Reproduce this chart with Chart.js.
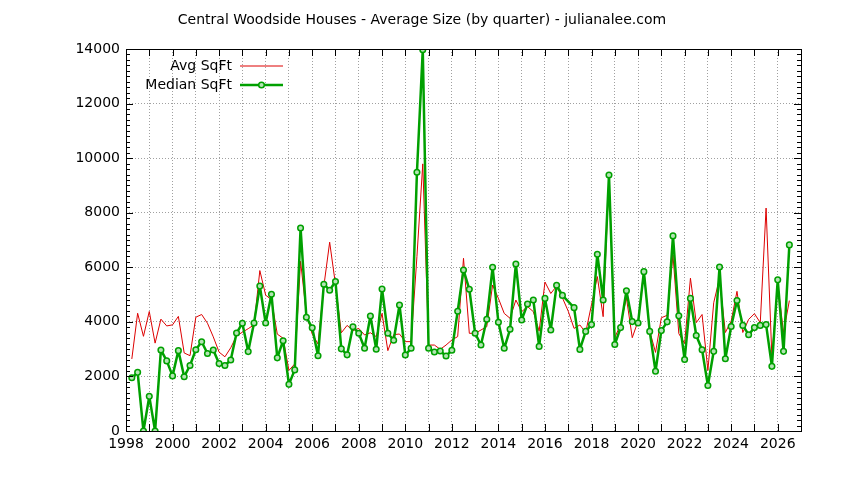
<!DOCTYPE html>
<html>
<head>
<meta charset="utf-8">
<script src="https://cdn.jsdelivr.net/npm/chart.js@4.4.1/dist/chart.umd.min.js"></script>
<style>
  html, body { margin: 0; padding: 0; background: #fff; }
  #wrap { width: 844px; height: 480px; }
</style>
</head>
<body>
<div id="wrap"><canvas id="chart" width="844" height="480"></canvas></div>
<script>
// ── Data (quarter position in years, one row per year) ──
const QUARTERS = [
  1998.25, 1998.5, 1998.75,
  1999, 1999.25, 1999.5, 1999.75,
  2000, 2000.25, 2000.5, 2000.75,
  2001, 2001.25, 2001.5, 2001.75,
  2002, 2002.25, 2002.5, 2002.75,
  2003, 2003.25, 2003.5, 2003.75,
  2004, 2004.25, 2004.5, 2004.75,
  2005, 2005.25, 2005.5, 2005.75,
  2006, 2006.25, 2006.5, 2006.75,
  2007, 2007.25, 2007.5, 2007.75,
  2008, 2008.25, 2008.5, 2008.75,
  2009, 2009.25, 2009.5, 2009.75,
  2010, 2010.25, 2010.5, 2010.75,
  2011, 2011.25, 2011.5, 2011.75,
  2012, 2012.25, 2012.5, 2012.75,
  2013, 2013.25, 2013.5, 2013.75,
  2014, 2014.25, 2014.5, 2014.75,
  2015, 2015.25, 2015.5, 2015.75,
  2016, 2016.25, 2016.5, 2016.75,
  2017, 2017.25, 2017.5, 2017.75,
  2018, 2018.25, 2018.5, 2018.75,
  2019, 2019.25, 2019.5, 2019.75,
  2020, 2020.25, 2020.5, 2020.75,
  2021, 2021.25, 2021.5, 2021.75,
  2022, 2022.25, 2022.5, 2022.75,
  2023, 2023.25, 2023.5, 2023.75,
  2024, 2024.25, 2024.5, 2024.75,
  2025, 2025.25, 2025.5, 2025.75,
  2026, 2026.25, 2026.5,
];

const AVG_SQFT = [
  2640, 4315, 3470,
  4380, 3220, 4100, 3850,
  3890, 4200, 2860, 2760,
  4170, 4270, 3950, 3450,
  2890, 2720, 3050, 3490,
  3620, 3750, 3890, 5880,
  4980, 4810, 3550, 3400,
  2220, 2460, 6220, 4280,
  3550, 3190, 5310, 6920,
  5370, 3600, 3870, 3680,
  3760, 3520, 3600, 3460,
  4310, 2945, 3530, 3555,
  3275, 3275, 6400, 9790,
  3150, 3150, 2994, 3150,
  3336, 3460, 6330, 3580,
  3580, 3700, 3825, 5350,
  4860, 4310, 4130, 4800,
  4375, 4560, 4375, 3660,
  5460, 5040, 5310, 4880,
  4390, 3760, 3885, 3610,
  4630, 5660, 4190, 9300,
  3420, 3910, 4880, 3420,
  4030, 5900, 3670, 2880,
  4150, 4240, 6450, 3570,
  3210, 5600, 3970, 4270,
  2220, 4700, 5600, 3610,
  4030, 5120, 3610, 4090,
  4300, 3970, 8170, 2700,
  5400, 3610, 4780,
];

// null = no median recorded for that quarter
const MEDIAN_SQFT = [
  1950, 2150, 0,
  1270, 0, 2970, 2570,
  2020, 2945, 1990, 2400,
  2980, 3270, 2840, 2970,
  2470, 2400, 2600, 3590,
  3950, 2910, 3960, 5310,
  3960, 5010, 2680, 3310,
  1710, 2240, 7440, 4170,
  3780, 2760, 5380, 5160,
  5480, 3010, 2790, 3820,
  3580, 3030, 4216, 2994,
  5206, 3580, 3324, 4619,
  2786, 3030, 9483, 13970,
  3030, 2896, 2933, 2750,
  2957, 4387, 5902, 5194,
  3580, 3150, 4094, 6000,
  3984, 3030, 3727, 6122,
  4070, 4656, 4800, 3100,
  4860, 3700, 5340, 4970,
  null, 4520, 2990, 3650,
  3900, 6480, 4800, 9380,
  3170, 3790, 5140, 4010,
  3960, 5840, 3650, 2190,
  3680, 4000, 7150, 4220,
  2620, 4860, 3500, 2980,
  1670, 2920, 6010, 2650,
  3830, 4780, 3870, 3530,
  3790, 3870, 3900, 2370,
  5540, 2920, 6820,
];

const X_MIN = 1998, X_MAX = 2027;
const Y_MIN = 0, Y_MAX = 14000;
const TITLE = 'Central Woodside Houses - Average Size (by quarter) - julianalee.com';

// ── Look ──
const FONT = '"DejaVu Sans", sans-serif';
const RED = '#dd0000';
const GREEN = '#00a000';
const GRID = '#a0a0a0';

const points = ys => QUARTERS.map((q, i) => ({ x: q, y: ys[i] }));

// ── Frame, inward ticks, title and legend (gnuplot style) ──
const gnuplotFrame = {
  id: 'gnuplotFrame',
  afterDraw(chart) {
    const { ctx, chartArea: a, scales: { x, y } } = chart;
    ctx.save();
    ctx.strokeStyle = '#000';
    ctx.lineWidth = 1;
    ctx.strokeRect(Math.round(a.left) + 0.5, Math.round(a.top) + 0.5,
                   Math.round(a.right - a.left), Math.round(a.bottom - a.top));

    ctx.beginPath();
    x.ticks.forEach(t => {
      const px = Math.round(x.getPixelForValue(t.value)) + 0.5;
      ctx.moveTo(px, a.bottom); ctx.lineTo(px, a.bottom - 7);
      ctx.moveTo(px, a.top);    ctx.lineTo(px, a.top + 7);
    });
    for (let v = Y_MIN; v <= Y_MAX; v += 200) {
      const len = v % 2000 === 0 ? 7 : 4;
      const py = Math.round(y.getPixelForValue(v)) + 0.5;
      ctx.moveTo(a.left, py);  ctx.lineTo(a.left + len, py);
      ctx.moveTo(a.right, py); ctx.lineTo(a.right - len, py);
    }
    ctx.stroke();

    // title
    ctx.fillStyle = '#000';
    ctx.font = `14px ${FONT}`;
    ctx.textAlign = 'center';
    ctx.textBaseline = 'middle';
    ctx.fillText(TITLE, chart.width / 2, 20);

    // legend
    const ds = chart.data.datasets;
    ctx.textAlign = 'right';
    ds.forEach((d, i) => {
      const ly = 66 + i * 19;
      ctx.fillStyle = '#000';
      ctx.fillText(d.label, 232, ly);
      ctx.strokeStyle = d.borderColor;
      ctx.lineWidth = d.borderWidth;
      ctx.beginPath();
      ctx.moveTo(240, ly); ctx.lineTo(283, ly);
      ctx.stroke();
      if (d.pointRadius > 0) {
        ctx.beginPath();
        ctx.arc(261.5, ly, d.pointRadius, 0, Math.PI * 2);
        ctx.fillStyle = d.pointBackgroundColor;
        ctx.fill();
        ctx.lineWidth = d.pointBorderWidth;
        ctx.stroke();
      }
    });
    ctx.restore();
  }
};

// ── Chart ──
new Chart(document.getElementById('chart'), {
  type: 'line',
  data: {
    datasets: [
      {
        label: 'Avg SqFt',
        data: points(AVG_SQFT),
        borderColor: RED, borderWidth: 1,
        pointRadius: 0, tension: 0, order: 2,
      },
      {
        label: 'Median SqFt',
        data: points(MEDIAN_SQFT),
        borderColor: GREEN, borderWidth: 2.5,
        borderJoinStyle: 'round', borderCapStyle: 'round',
        pointRadius: 2.8, pointBorderWidth: 1.5,
        pointBorderColor: GREEN, pointBackgroundColor: '#b4e4b4',
        tension: 0, spanGaps: true, order: 1,
      },
    ],
  },
  options: {
    responsive: false,
    animation: false,
    layout: { padding: { top: 49, right: 43, left: 0, bottom: 0 } },
    plugins: { legend: { display: false }, title: { display: false }, tooltip: { enabled: false } },
    scales: {
      x: {
        type: 'linear', min: X_MIN, max: X_MAX,
        afterFit: s => { s.height = 49; },
        grid: { color: GRID, lineWidth: 1, drawTicks: false },
        border: { display: false, dash: [1, 2] },
        ticks: {
          stepSize: 1, autoSkip: false, maxRotation: 0, padding: 5,
          color: '#000', font: { family: FONT, size: 14 },
          callback: v => (v % 2 === 0 ? String(v) : ''),
        },
      },
      y: {
        min: Y_MIN, max: Y_MAX,
        afterFit: s => { s.width = 126; },
        grid: { color: GRID, lineWidth: 1, drawTicks: false },
        border: { display: false, dash: [1, 2] },
        ticks: {
          stepSize: 2000, padding: 6,
          color: '#000', font: { family: FONT, size: 14 },
          callback: v => String(v),
        },
      },
    },
  },
  plugins: [gnuplotFrame],
});
</script>
</body>
</html>
